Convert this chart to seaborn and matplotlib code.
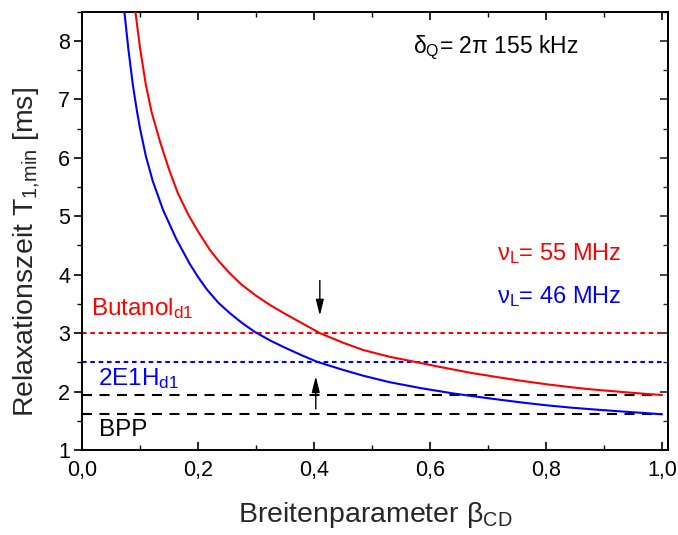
import numpy as np
import pandas as pd
import matplotlib
matplotlib.use("Agg")
import matplotlib.pyplot as plt
import seaborn as sns
from matplotlib.ticker import MultipleLocator, FuncFormatter

# ---- data ----
beta_red = [0.092, 0.100, 0.110, 0.120, 0.135, 0.150, 0.165, 0.183, 0.200, 0.220,
            0.235, 0.255, 0.275, 0.300, 0.325, 0.350, 0.380, 0.410, 0.450, 0.485,
            0.530, 0.578, 0.620, 0.670, 0.720, 0.760, 0.800, 0.842, 0.880, 0.928,
            0.965, 1.000]
t1_red = [8.50, 7.88, 7.25, 6.78, 6.26, 5.80, 5.40, 5.03, 4.74, 4.43,
          4.24, 4.02, 3.83, 3.64, 3.475, 3.33, 3.165, 3.00, 2.835, 2.71,
          2.595, 2.50, 2.415, 2.32, 2.24, 2.18, 2.125, 2.075, 2.035, 1.995,
          1.965, 1.94]

beta_blue = [0.073, 0.080, 0.088, 0.095, 0.100, 0.110, 0.122, 0.140, 0.163, 0.186,
             0.200, 0.215, 0.235, 0.255, 0.275, 0.298, 0.325, 0.350, 0.380, 0.405,
             0.450, 0.485, 0.530, 0.583, 0.638, 0.670, 0.720, 0.760, 0.800, 0.842,
             0.880, 0.928, 0.965, 1.000]
t1_blue = [8.50, 7.85, 7.22, 6.78, 6.50, 6.03, 5.60, 5.10, 4.60, 4.18,
           3.96, 3.75, 3.52, 3.34, 3.18, 3.02, 2.87, 2.75, 2.615, 2.51,
           2.37, 2.27, 2.16, 2.06, 1.97, 1.925, 1.86, 1.81, 1.765, 1.725,
           1.695, 1.66, 1.635, 1.61]

hline_x = [0.0, 1.0]
butanol_level = 3.0
e1h_level = 2.5
bpp_levels = [1.94, 1.615]

x_ticks = [0.0, 0.2, 0.4, 0.6, 0.8, 1.0]
y_ticks = [1, 2, 3, 4, 5, 6, 7, 8]

sns.set_theme(style="ticks")
plt.rcParams['font.family'] = ['Liberation Sans', 'DejaVu Sans']
plt.rcParams['mathtext.fontset'] = 'custom'
plt.rcParams['mathtext.rm'] = 'Liberation Sans'
plt.rcParams['mathtext.it'] = 'Liberation Sans'

fig = plt.figure(figsize=(6.78, 5.35), dpi=100)
ax = fig.add_axes([0.121, 0.159, 0.864, 0.819])

df_red = pd.DataFrame({"beta": beta_red, "T1": t1_red})
df_blue = pd.DataFrame({"beta": beta_blue, "T1": t1_blue})

# horizontal reference lines
sns.lineplot(x=hline_x, y=[butanol_level] * 2, ax=ax, color="red",
             linewidth=1.5, linestyle=(0, (2.2, 1.8)), zorder=2)
sns.lineplot(x=hline_x, y=[e1h_level] * 2, ax=ax, color="blue",
             linewidth=1.5, linestyle=(0, (2.2, 1.8)), zorder=2)
for lv in bpp_levels:
    sns.lineplot(x=hline_x, y=[lv] * 2, ax=ax, color="black",
                 linewidth=1.5, linestyle=(0, (4.8, 3.6)), zorder=2)

# curves
sns.lineplot(data=df_red, x="beta", y="T1", ax=ax, color="red", linewidth=1.5, zorder=3)
sns.lineplot(data=df_blue, x="beta", y="T1", ax=ax, color="blue", linewidth=1.5, zorder=3)

# arrows
ax.annotate("", xy=(0.41, 3.30), xytext=(0.41, 3.90),
            arrowprops=dict(arrowstyle="-|>,head_length=0.8,head_width=0.2",
                            color="black", lw=1.0, shrinkA=0, shrinkB=0))
ax.annotate("", xy=(0.403, 2.26), xytext=(0.403, 1.70),
            arrowprops=dict(arrowstyle="-|>,head_length=0.8,head_width=0.2",
                            color="black", lw=1.0, shrinkA=0, shrinkB=0))

ax.set_xlim(0, 1.01)
ax.set_ylim(1, 8.5)
ax.set_xticks(x_ticks)
ax.set_yticks(y_ticks)
ax.xaxis.set_minor_locator(MultipleLocator(0.1))
ax.yaxis.set_minor_locator(MultipleLocator(0.5))
ax.xaxis.set_major_formatter(FuncFormatter(lambda v, p: f"{v:.1f}".replace(".", ",")))
ax.yaxis.set_major_formatter(FuncFormatter(lambda v, p: f"{v:.0f}"))

for s in ax.spines.values():
    s.set_visible(True)
    s.set_linewidth(1.4)
    s.set_color("black")

ax.tick_params(axis="x", which="both", direction="in", top=True, bottom=True,
               labelsize=15.5, colors="black", pad=7)
ax.tick_params(axis="y", which="both", direction="out", left=True, right=False,
               labelsize=15.5, colors="black", pad=3)
ax.tick_params(which="major", length=5.5, width=1.2)
ax.tick_params(which="minor", length=3.5, width=1.0)

# right-hand ticks pointing inward
sec = ax.secondary_yaxis("right")
sec.set_yticks(y_ticks)
sec.yaxis.set_minor_locator(MultipleLocator(0.5))
sec.tick_params(axis="y", which="both", direction="in", labelright=False)
sec.tick_params(which="major", length=5.5, width=1.2)
sec.tick_params(which="minor", length=3.5, width=1.0)
sec.spines["right"].set_linewidth(1.4)

ax.set_xlabel(r"Breitenparameter β$_{\mathregular{CD}}$", fontsize=20.5, labelpad=14)
ax.set_ylabel(r"Relaxationszeit T$_{\mathregular{1{,}min}}$ [ms]", fontsize=20.5)
ax.yaxis.set_label_coords(-0.069, 0.452)

ax.text(0.57, 7.89, r"δ$_{\mathregular{Q}}$= 2π 155 kHz", fontsize=16.5,
        color="black", va="center", ha="left")
ax.text(0.716, 4.37, r"ν$_{\mathregular{L}}$= 55 MHz", fontsize=17,
        color="red", va="center", ha="left")
ax.text(0.716, 3.62, r"ν$_{\mathregular{L}}$= 46 MHz", fontsize=17,
        color="blue", va="center", ha="left")
ax.text(0.016, 3.42, r"Butanol$_{\mathregular{d1}}$", fontsize=17.5,
        color="red", va="center", ha="left")
ax.text(0.027, 2.22, r"2E1H$_{\mathregular{d1}}$", fontsize=17.5,
        color="blue", va="center", ha="left")
ax.text(0.030, 1.34, "BPP", fontsize=17.5, color="black", va="center", ha="left")

fig.savefig("out.png", dpi=100)
